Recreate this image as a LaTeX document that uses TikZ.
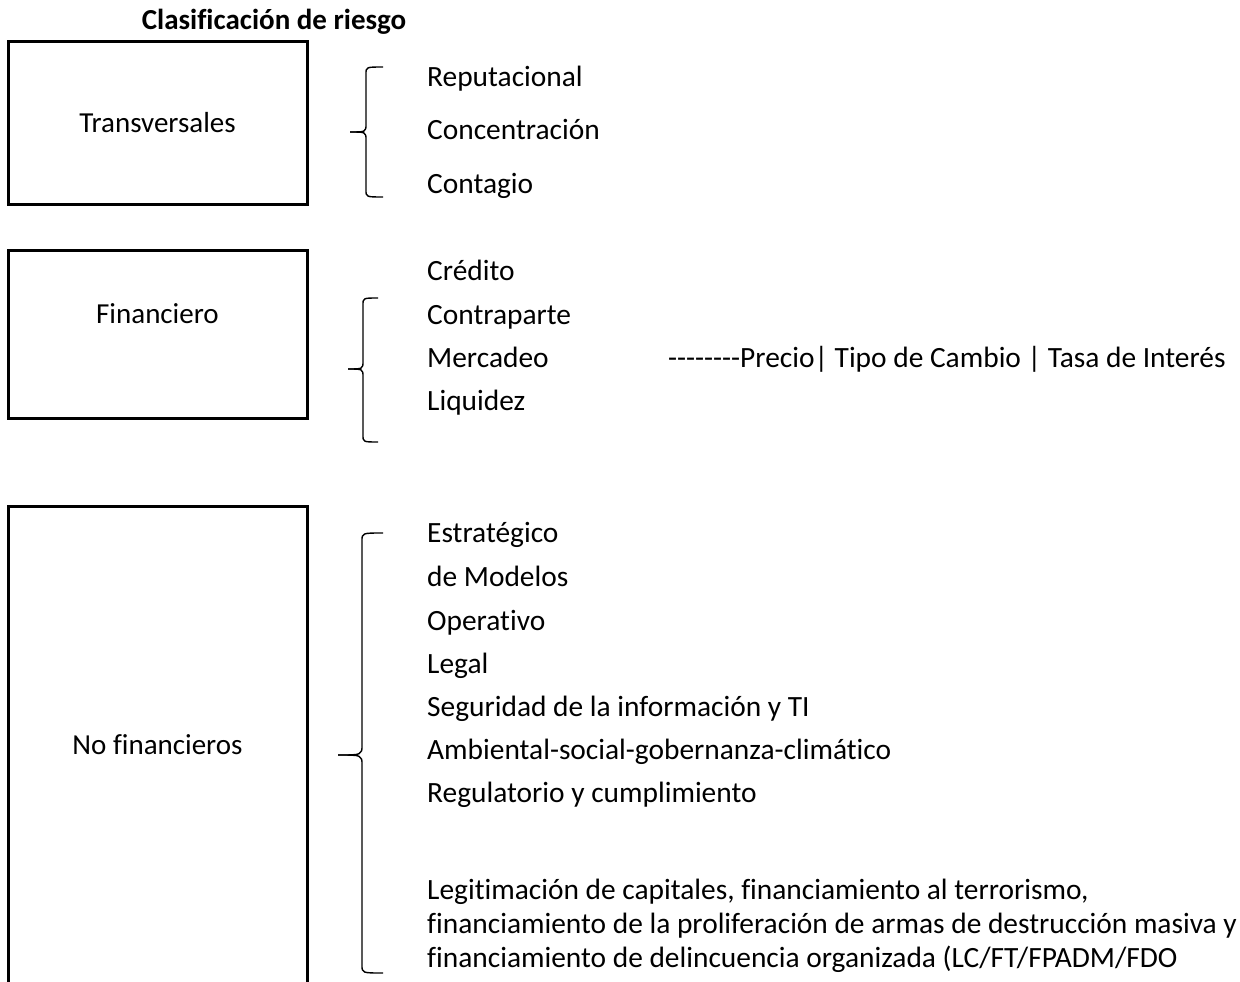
\documentclass[tikz,border=0pt]{standalone}
\usepackage{fontspec}
\setmainfont{Carlito}[Ligatures={TeXOff,CommonOff}]
\begin{document}
\begin{tikzpicture}[x=1pt,y=-1pt,
  box/.style={draw, line width=3pt, inner sep=0pt},
  lbl/.style={inner sep=0pt, anchor=base, font=\fontsize{29}{35}\selectfont},
  item/.style={inner sep=0pt, anchor=base west, font=\fontsize{29.4}{35}\selectfont},
  brace/.style={line width=1.4pt}]
\clip (0,0) rectangle (1240,982);
\fill[white] (0,0) rectangle (1240,982);
% title
\node[lbl, font=\fontsize{29}{35}\selectfont\bfseries] (title) at (274,30) {Clasificación de riesgo};
% boxes
\draw[box] (8,42) rectangle (307,204);
\draw[box] (8,250) rectangle (307,418);
\draw[box] (8,506) rectangle (307,1000);
\node[lbl] (t1) at (157.5,132) {Transversales};
\node[lbl] (t2) at (157.5,323) {Financiero};
\node[lbl] (t3) at (157.5,754) {No financieros};
% brace 1
\draw[brace] (350,132) .. controls (366,132) .. (366,124) -- (366,74) .. controls (366,67) .. (383,67);
\draw[brace] (350,132) .. controls (366,132) .. (366,140) -- (366,190) .. controls (366,197) .. (383,197);
% brace 2
\draw[brace] (348,369) .. controls (363,369) .. (363,361) -- (363,305) .. controls (363,298) .. (378,298);
\draw[brace] (348,369) .. controls (363,369) .. (363,377) -- (363,435) .. controls (363,442) .. (378,442);
% brace 3
\draw[brace] (338,755) .. controls (362,755) .. (362,745) -- (362,541) .. controls (362,533) .. (383,533);
\draw[brace] (338,755) .. controls (362,755) .. (362,765) -- (362,965) .. controls (362,973) .. (383,973);
% items
\node[item] (r1) at (427,86) {Reputacional};
\node[item] (r2) at (427,139) {Concentración};
\node[item] (r3) at (427,193) {Contagio};
\node[item] (f1) at (427,280) {Crédito};
\node[item] (f2) at (427,324) {Contraparte};
\node[item] (f3) at (427,367) {Mercadeo};
\node[item] (f4) at (427,410) {Liquidez};
\node[item] (f5) at (668,367) {--------Precio| Tipo de Cambio | Tasa de Interés};
\node[item] (n1) at (427,542) {Estratégico};
\node[item] (n2) at (427,586) {de Modelos};
\node[item] (n3) at (427,630) {Operativo};
\node[item] (n4) at (427,673) {Legal};
\node[item] (n5) at (427,716) {Seguridad de la información y TI};
\node[item] (n6) at (427,759) {Ambiental-social-gobernanza-climático};
\node[item] (n7) at (427,802) {Regulatorio y cumplimiento};
\node[item] (n8) at (427,899) {Legitimación de capitales, financiamiento al terrorismo,};
\node[item] (n9) at (427,933) {financiamiento de la proliferación de armas de destrucción masiva y};
\node[item] (n10) at (427,967) {financiamiento de delincuencia organizada (LC/FT/FPADM/FDO};
\end{tikzpicture}
\end{document}
